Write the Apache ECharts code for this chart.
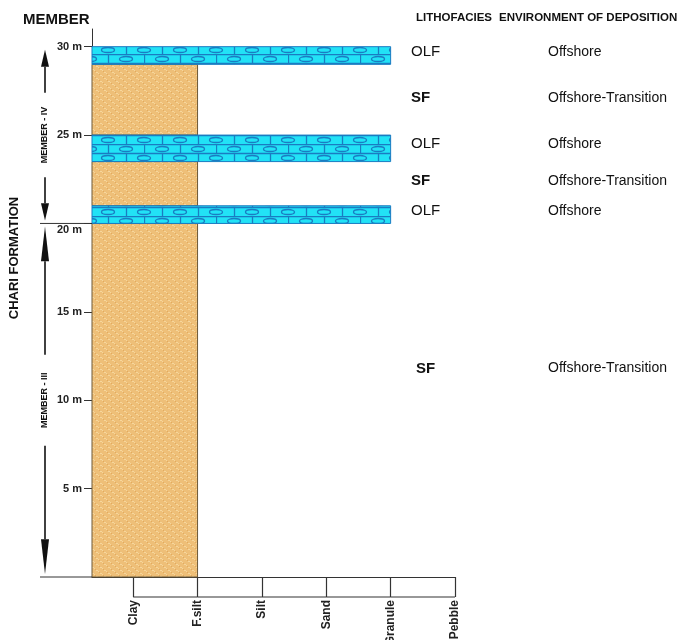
<!DOCTYPE html>
<html>
<head>
<meta charset="utf-8">
<script src="https://cdn.jsdelivr.net/npm/echarts@6/dist/echarts.min.js"></script>
<style>
  html, body { margin: 0; padding: 0; background: #fff; }
  #log { width: 684px; height: 640px; }
</style>
</head>
<body>
<div id="log"></div>
<script>
// grain size scale
var grainLabels = ['Clay', 'F.silt', 'Silt', 'Sand', 'Granule', 'Pebble'];
var grainValues = [1, 2, 3, 4, 5, 6];

// beds, top to bottom (depth in m)
var bedTop = [30, 29, 25, 23.5, 21, 20];
var bedBase = [29, 25, 23.5, 21, 20, 0];
var bedFacies = ['OLF', 'SF', 'OLF', 'SF', 'OLF', 'SF'];
var bedGrain = [5, 2, 5, 2, 5, 2];
var bedEnv = ['Offshore', 'Offshore-Transition', 'Offshore', 'Offshore-Transition', 'Offshore', 'Offshore-Transition'];
var labelDepth = [29.7, 27.1, 24.5, 22.4, 20.7, 11.8];

// members
var memberNames = ['MEMBER - IV', 'MEMBER - III'];
var memberTop = [30, 20];
var memberBase = [20, 0];

var depthTicks = [5, 10, 15, 20, 25, 30];
var boundaryDepths = [20, 0];

var xMin = 0.36, xMax = 6;
var sans = "'Liberation Sans', Arial, sans-serif";

// limestone pattern
function limeTile() {
  var c = document.createElement('canvas');
  c.width = 72; c.height = 18;
  var g = c.getContext('2d');
  g.fillStyle = '#22e2f6';
  g.fillRect(0, 0, 72, 18);
  g.strokeStyle = '#1a7cc2';
  g.lineWidth = 1.3;
  g.beginPath();
  g.moveTo(0, 0.5); g.lineTo(72, 0.5);
  g.moveTo(0, 9.5); g.lineTo(72, 9.5);
  g.moveTo(0.5, 0); g.lineTo(0.5, 9);
  g.moveTo(36.5, 0); g.lineTo(36.5, 9);
  g.moveTo(18.5, 9); g.lineTo(18.5, 18);
  g.moveTo(54.5, 9); g.lineTo(54.5, 18);
  g.stroke();
  [[18, 5], [54, 5], [0, 14], [36, 14], [72, 14]].forEach(function (e) {
    g.beginPath();
    g.ellipse(e[0], e[1], 6.5, 2.5, 0, 0, Math.PI * 2);
    g.stroke();
  });
  return c;
}

// silt pattern
function siltTile() {
  var c = document.createElement('canvas');
  c.width = 8; c.height = 6;
  var g = c.getContext('2d');
  g.fillStyle = '#eebf78';
  g.fillRect(0, 0, 8, 6);
  g.fillStyle = '#f6d69c';
  g.fillRect(0, 0, 2, 1); g.fillRect(4, 3, 2, 1);
  g.fillRect(2, 1, 1, 1); g.fillRect(6, 4, 1, 1);
  g.fillStyle = '#e2aa5e';
  g.fillRect(3, 2, 1, 1); g.fillRect(7, 5, 1, 1);
  return c;
}

var limeFill = { image: limeTile(), repeat: 'repeat' };
var siltFill = { image: siltTile(), repeat: 'repeat' };

var bedData = bedTop.map(function (t, i) { return [bedGrain[i], t, bedBase[i], i]; });
// draw silt first so limestone sits on top
bedData.sort(function (a, b) { return (bedFacies[a[3]] === 'OLF') - (bedFacies[b[3]] === 'OLF'); });

var chart = echarts.init(document.getElementById('log'));
chart.setOption({
  animation: false,
  title: [
    { text: 'MEMBER', left: 18, top: 7, textStyle: { fontFamily: sans, fontSize: 15, fontWeight: 'bold', color: '#111' } },
    { text: 'LITHOFACIES', left: 411, top: 7, textStyle: { fontFamily: sans, fontSize: 11.5, fontWeight: 'bold', color: '#111' } },
    { text: 'ENVIRONMENT OF DEPOSITION', left: 494, top: 7, textStyle: { fontFamily: sans, fontSize: 11.5, fontWeight: 'bold', color: '#111' } }
  ],
  graphic: [{
    type: 'text', x: 14, y: 258, rotation: Math.PI / 2,
    style: { text: 'CHARI FORMATION', fontFamily: sans, fontSize: 13, fontWeight: 'bold', fill: '#111', align: 'center', verticalAlign: 'middle' }
  }],
  grid: { left: 92, right: 229, top: 29, bottom: 63, containLabel: false, outerBoundsMode: 'none' },
  xAxis: {
    type: 'value', min: xMin, max: xMax,
    splitLine: { show: false },
    axisLine: { lineStyle: { color: '#333', width: 1 } },
    axisTick: { customValues: grainValues, length: 20, lineStyle: { color: '#333', width: 1.2 } },
    axisLabel: {
      customValues: grainValues, rotate: 90, margin: 23,
      fontFamily: sans, fontSize: 12, fontWeight: 'bold', color: '#222',
      formatter: function (v) { return grainLabels[grainValues.indexOf(v)] || ''; }
    }
  },
  yAxis: {
    type: 'value', min: 0, max: 31,
    splitLine: { show: false },
    axisLine: { show: true, lineStyle: { color: '#333', width: 1 } },
    axisTick: { customValues: depthTicks, length: 8, lineStyle: { color: '#333' } },
    axisLabel: {
      customValues: depthTicks, margin: 10,
      fontFamily: sans, fontSize: 11, fontWeight: 'bold', color: '#222',
      formatter: function (v) { return v === 20 ? '{low|20 m}' : v + ' m'; },
      rich: { low: { fontFamily: sans, fontSize: 11, fontWeight: 'bold', color: '#222', padding: [14, 0, 0, 0] } }
    }
  },
  series: [
    {
      name: 'beds', type: 'custom', data: bedData,
      renderItem: function (params, api) {
        var i = api.value(3);
        var p1 = api.coord([xMin, api.value(1)]);
        var p2 = api.coord([api.value(0), api.value(2)]);
        var olf = bedFacies[i] === 'OLF';
        return {
          type: 'rect',
          shape: { x: p1[0], y: p1[1], width: p2[0] - p1[0], height: p2[1] - p1[1] },
          style: { fill: olf ? limeFill : siltFill, stroke: olf ? '#1a7cc2' : '#6b5838', lineWidth: 1 }
        };
      }
    },
    {
      name: 'scale box', type: 'custom', clip: false,
      data: grainValues.map(function (g, i) { return [g, i]; }),
      renderItem: function (params, api) {
        var idx = api.value(1);
        if (idx === 0) return;
        var a = api.coord([grainValues[idx - 1], 0]);
        var b = api.coord([api.value(0), 0]);
        return { type: 'line', shape: { x1: a[0], y1: a[1] + 20, x2: b[0], y2: b[1] + 20 }, style: { stroke: '#333', lineWidth: 1.2 } };
      }
    },
    {
      name: 'boundaries', type: 'custom', clip: false,
      data: boundaryDepths.map(function (d) { return [xMin, d]; }),
      renderItem: function (params, api) {
        var p = api.coord([xMin, api.value(1)]);
        return { type: 'line', shape: { x1: p[0] - 52, y1: p[1], x2: p[0], y2: p[1] }, style: { stroke: '#333', lineWidth: 1 } };
      }
    },
    {
      name: 'members', type: 'custom', clip: false,
      data: memberNames.map(function (n, i) { return [xMin, memberBase[i], memberTop[i], i]; }),
      renderItem: function (params, api) {
        var top = api.coord([xMin, api.value(2)]);
        var base = api.coord([xMin, api.value(1)]);
        var x = top[0] - 47;
        var y1 = top[1] + 3, y2 = base[1] - 3;
        var span = y2 - y1;
        var head = span * 0.1;
        var mid = (y1 + y2) / 2;
        var name = memberNames[api.value(3)];
        var gap = name.length * 3.3 + 6;
        return {
          type: 'group',
          children: [
            { type: 'line', shape: { x1: x, y1: y1 + head, x2: x, y2: mid - gap }, style: { stroke: '#111', lineWidth: 1.6 } },
            { type: 'line', shape: { x1: x, y1: mid + gap, x2: x, y2: y2 - head }, style: { stroke: '#111', lineWidth: 1.6 } },
            { type: 'polygon', shape: { points: [[x, y1], [x - 4, y1 + head], [x + 4, y1 + head]] }, style: { fill: '#111' } },
            { type: 'polygon', shape: { points: [[x, y2], [x - 4, y2 - head], [x + 4, y2 - head]] }, style: { fill: '#111' } },
            {
              type: 'text', x: x, y: mid, rotation: Math.PI / 2,
              style: { text: name, fontFamily: sans, fontSize: 9, fontWeight: 'bold', fill: '#111', align: 'center', verticalAlign: 'middle' }
            }
          ]
        };
      }
    },
    {
      name: 'facies labels', type: 'custom', clip: false,
      data: labelDepth.map(function (d, i) { return [xMax, d, i]; }),
      renderItem: function (params, api) {
        var i = api.value(2);
        var p = api.coord([xMax, api.value(1)]);
        var olf = bedFacies[i] === 'OLF';
        return {
          type: 'group',
          children: [
            { type: 'text', x: p[0] - 44 + (i === 5 ? 5 : 0), y: p[1], style: { text: bedFacies[i], fontFamily: sans, fontSize: 15, fontWeight: olf ? 'normal' : 'bold', fill: '#111', verticalAlign: 'middle' } },
            { type: 'text', x: p[0] + 93, y: p[1], style: { text: bedEnv[i], fontFamily: sans, fontSize: 14, fill: '#111', verticalAlign: 'middle' } }
          ]
        };
      }
    }
  ]
});
</script>
</body>
</html>
